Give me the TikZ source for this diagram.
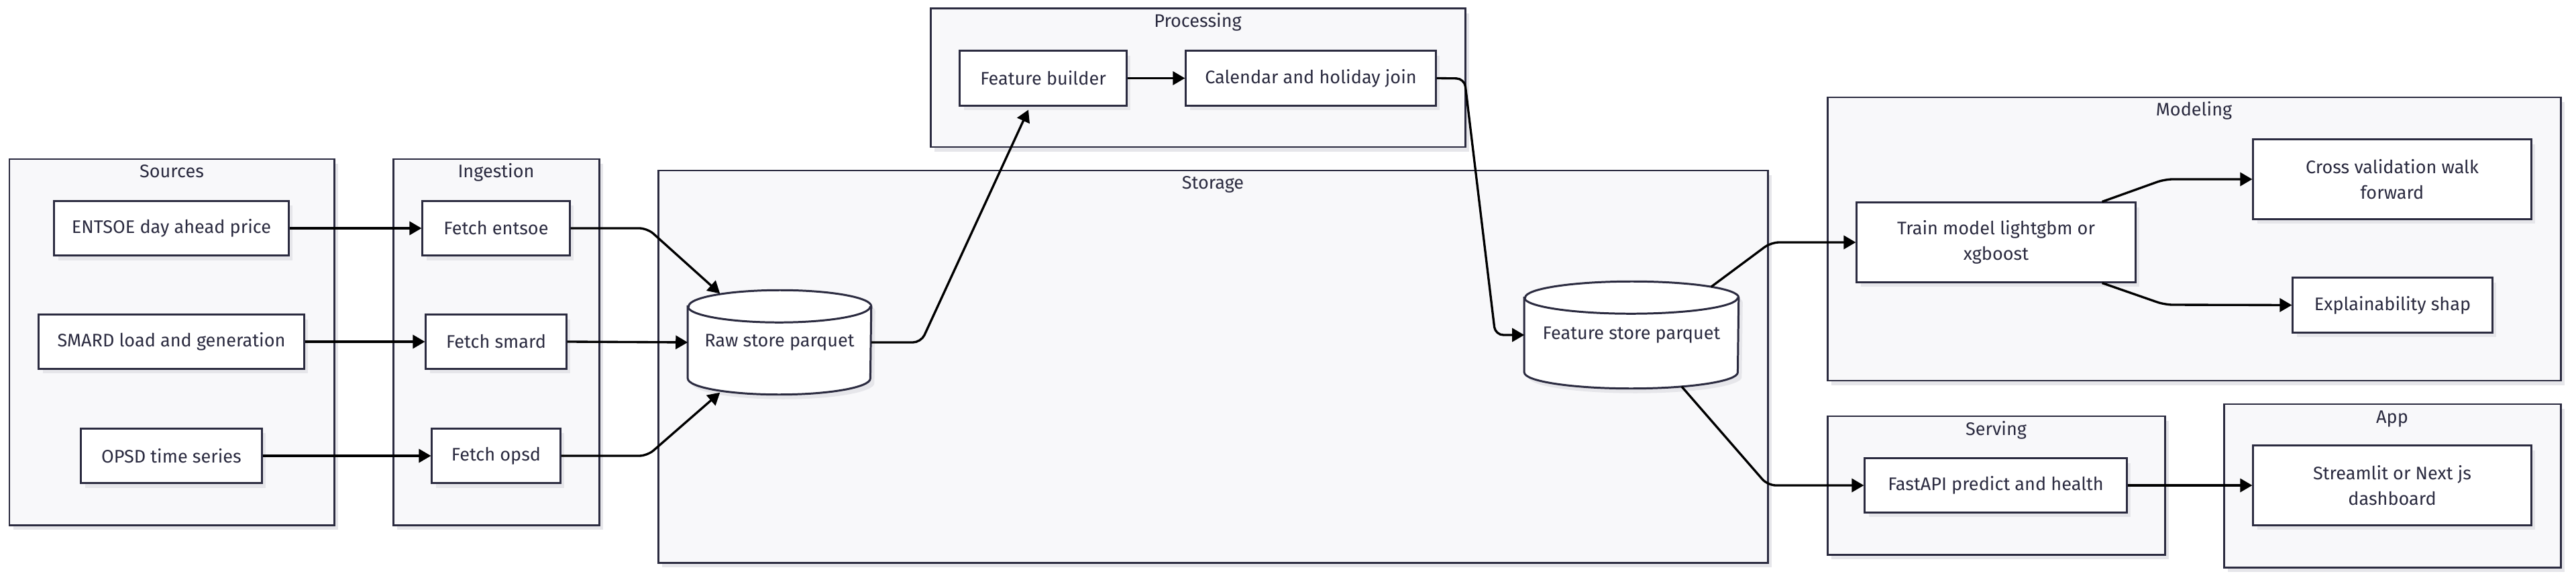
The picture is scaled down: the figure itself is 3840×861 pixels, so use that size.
\documentclass[tikz,border=0pt]{standalone}
\usepackage{fontspec}
\setmainfont{Fira Sans}
\usepackage{tikz}
\usetikzlibrary{arrows.meta}
\usetikzlibrary{shadows}
\usetikzlibrary{backgrounds}

\definecolor{ink}{HTML}{2B2B40}
\definecolor{panel}{HTML}{F8F8FA}
\definecolor{shade}{HTML}{E6E6EA}

% drum outline around a node: #2 node, #3 x radius
\newcommand{\drum}[3][]{%
  \path[#1] ([yshift=-0.24cm]#2.north west) -- ([yshift=0.24cm]#2.south west)
    arc[start angle=180, end angle=360, x radius=#3, y radius=0.24cm]
    -- ([yshift=-0.24cm]#2.north east)
    arc[start angle=0, end angle=180, x radius=#3, y radius=0.24cm] -- cycle;
}

\begin{document}
\begin{tikzpicture}[x=0.01cm, y=-0.01cm, font=\fontsize{7.7}{10.8}\selectfont,
    box/.style={draw=ink, line width=0.85pt, fill=white, text=ink, align=center, inner sep=0pt,
      drop shadow={shadow xshift=0.06cm, shadow yshift=-0.07cm, fill=shade, opacity=1}},
    cluster/.style={draw=ink, line width=0.85pt, fill=panel,
      drop shadow={shadow xshift=0.06cm, shadow yshift=-0.07cm, fill=shade, opacity=1}},
    title/.style={text=ink, inner sep=0pt, anchor=base},
    db/.style={text=ink, inner sep=0pt},
    arr/.style={-{Triangle[length=0.18cm, width=0.2cm]}, line width=0.95pt, rounded corners=0.12cm}]
    \useasboundingbox (0,0) rectangle (3840,861);

    \begin{scope}[on background layer]
        \draw[cluster] (14,237) rectangle (498,782);
        \draw[cluster] (586,237) rectangle (893,782);
        \draw[cluster] (981,254) rectangle (2635,838);
        \draw[cluster] (1387,13) rectangle (2184,219);
        \draw[cluster] (2724,145) rectangle (3817,567);
        \draw[cluster] (2724,620) rectangle (3227,826);
        \draw[cluster] (3315,602) rectangle (3817,845);
    \end{scope}

    \node[title] (tsources) at (256,265) {Sources};
    \node[title] (tingest) at (739.5,265) {Ingestion};
    \node[title] (tstorage) at (1808,282) {Storage};
    \node[title] (tproc) at (1785.5,41) {Processing};
    \node[title] (tmodel) at (3270.5,173) {Modeling};
    \node[title] (tserve) at (2975.5,648) {Serving};
    \node[title] (tapp) at (3566,630) {App};

    \node[box, minimum width=3.49cm, minimum height=0.81cm] (entsoe) at (255.5,340) {ENTSOE day ahead price};
    \node[box, minimum width=3.95cm, minimum height=0.80cm] (smard) at (255.5,509) {SMARD load and generation};
    \node[box, minimum width=2.69cm, minimum height=0.81cm] (opsd) at (255.5,679) {OPSD time series};

    \node[box, minimum width=2.19cm, minimum height=0.81cm] (fentsoe) at (739.5,340) {Fetch entsoe};
    \node[box, minimum width=2.09cm, minimum height=0.80cm] (fsmard) at (739.5,509) {Fetch smard};
    \node[box, minimum width=1.91cm, minimum height=0.81cm] (fopsd) at (739.5,679) {Fetch opsd};

    \node[db, minimum width=2.72cm, minimum height=1.54cm] (raw) at (1162,510) {\raisebox{-0.12cm}{Raw store parquet}};
    \node[db, minimum width=3.18cm, minimum height=1.58cm] (feat) at (2432,499) {\raisebox{-0.13cm}{Feature store parquet}};

    \node[box, minimum width=2.48cm, minimum height=0.81cm] (builder) at (1555,116.5) {Feature builder};
    \node[box, minimum width=3.72cm, minimum height=0.81cm] (calendar) at (1954,116.5) {Calendar and holiday join};

    \node[box, minimum width=4.15cm, minimum height=1.18cm] (train) at (2975.5,361) {Train model lightgbm or\\xgboost};
    \node[box, minimum width=4.14cm, minimum height=1.18cm] (cv) at (3566,267) {Cross validation walk\\forward};
    \node[box, minimum width=2.97cm, minimum height=0.81cm] (shap) at (3566.5,454.5) {Explainability shap};

    \node[box, minimum width=3.90cm, minimum height=0.80cm] (api) at (2975,723) {FastAPI predict and health};
    \node[box, minimum width=4.14cm, minimum height=1.18cm] (dash) at (3566,723) {Streamlit or Next js\\dashboard};

    \begin{scope}[on background layer]
        \drum[fill=shade, transform canvas={shift={(0.06cm,-0.07cm)}}]{raw}{1.36cm}
        \drum[fill=white, draw=ink, line width=0.85pt]{raw}{1.36cm}
        \draw[ink, line width=0.85pt] ([yshift=-0.24cm]raw.north west) arc[start angle=180, end angle=360, x radius=1.36cm, y radius=0.24cm];
        \drum[fill=shade, transform canvas={shift={(0.06cm,-0.07cm)}}]{feat}{1.59cm}
        \drum[fill=white, draw=ink, line width=0.85pt]{feat}{1.59cm}
        \draw[ink, line width=0.85pt] ([yshift=-0.24cm]feat.north west) arc[start angle=180, end angle=360, x radius=1.59cm, y radius=0.24cm];
    \end{scope}

    \draw[arr] (entsoe) -- (fentsoe);
    \draw[arr] (smard) -- (fsmard);
    \draw[arr] (opsd) -- (fopsd);
    \draw[arr] (fentsoe.east) -- (965,340) -- ([xshift=0.48cm, yshift=-0.05cm]raw.north west);
    \draw[arr] (fsmard.east) -- (raw.west);
    \draw[arr] (fopsd.east) -- (965,679) -- ([xshift=0.48cm, yshift=0.03cm]raw.south west);
    \draw[arr] (raw.east) -- (1373,510) -- ([xshift=-0.22cm, yshift=-0.05cm]builder.south);
    \draw[arr] (builder) -- (calendar);
    \draw[arr] (calendar.east) -- (2183,117) -- (2229,499) -- (feat.west);
    \draw[arr] ([xshift=-0.41cm, yshift=-0.08cm]feat.north east) -- (2640,361) -- (train.west);
    \draw[arr] ([xshift=-0.85cm, yshift=0.03cm]feat.south east) -- (2635,723) -- (api.west);
    \draw[arr] ([xshift=1.58cm]train.north) -- (3227,267) -- (cv.west);
    \draw[arr] ([xshift=1.58cm]train.south) -- (3227,454) -- (shap.west);
    \draw[arr] (api) -- (dash);
\end{tikzpicture}
\end{document}
